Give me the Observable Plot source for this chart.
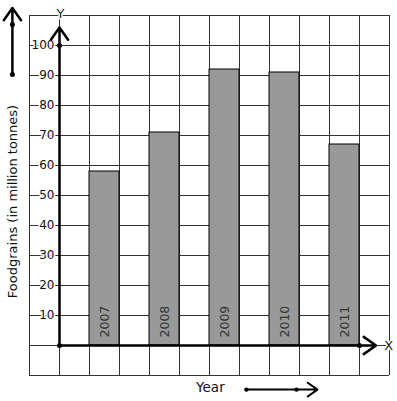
<!DOCTYPE html>
<html>
<head>
<meta charset="utf-8">
<script src="https://cdn.jsdelivr.net/npm/d3@7"></script>
<script src="https://cdn.jsdelivr.net/npm/@observablehq/plot@0.6"></script>
<style>
  html, body { margin: 0; padding: 0; background: #fff; }
  #chart svg { display: block; }
</style>
</head>
<body>
<div id="chart"></div>
<script>
const years = ["2007", "2008", "2009", "2010", "2011"];
const production = [58, 71, 92, 91, 67];
const yTicks = [10, 20, 30, 40, 50, 60, 70, 80, 90, 100];
const gridX = [-1, 0, 1, 2, 3, 4, 5, 6, 7, 8, 9, 10, 11];
const gridY = [-10, 0, 10, 20, 30, 40, 50, 60, 70, 80, 90, 100, 110];
const yTitle = "Foodgrains (in million tonnes)";
const xTitle = "Year";

const bars = years.map((year, i) => ({ year, value: production[i], x1: 2 * i + 1, x2: 2 * i + 2 }));

const font = "DejaVu Sans, sans-serif";

const chart = Plot.plot({
  width: 397,
  height: 401,
  marginLeft: 29,
  marginRight: 8,
  marginTop: 15,
  marginBottom: 26,
  x: { domain: [-1, 11], axis: null },
  y: { domain: [-10, 110], axis: null },
  style: { fontFamily: font, background: "white" },
  marks: [
    Plot.ruleX(gridX, { x: d => d, y1: -10, y2: 110, stroke: "#333", strokeWidth: 1, strokeOpacity: 1 }),
    Plot.ruleY(gridY, { y: d => d, x1: -1, x2: 11, stroke: "#333", strokeWidth: 1, strokeOpacity: 1 }),
    Plot.rect(bars, { x1: "x1", x2: "x2", y1: 0, y2: "value", fill: "#999", stroke: "#000", strokeWidth: 1 }),
    Plot.text(bars, { x: d => (d.x1 + d.x2) / 2, y: 0, text: "year", rotate: -90, textAnchor: "start", lineAnchor: "middle", dy: -8, fill: "#333", fontSize: 12.5 }),
    Plot.text(yTicks, { x: 0, y: d => d, text: d => String(d), textAnchor: "end", dx: -5, fontSize: 12, fill: "#111", stroke: "white", strokeWidth: 3, paintOrder: "stroke" }),
    // axes
    Plot.arrow([0], { x1: 0, y1: 0, x2: 0, y2: 106, stroke: "#000", strokeWidth: 2.5, headLength: 9, headAngle: 70 }),
    Plot.arrow([0], { x1: 0, y1: 0, x2: 10.55, y2: 0, stroke: "#000", strokeWidth: 2.5, headLength: 9, headAngle: 70 }),
    Plot.dot([[0, 0], [0, 100], [10, 0]], { x: d => d[0], y: d => d[1], r: 2.5, fill: "#000" }),
    Plot.text(["Y"], { x: 0.03, y: 110, text: d => d, fontSize: 13, fill: "#222", stroke: "white", strokeWidth: 3, paintOrder: "stroke", dy: -2 }),
    Plot.text(["X"], { x: 10.97, y: 0, text: d => d, fontSize: 13, fill: "#222", stroke: "white", strokeWidth: 3, paintOrder: "stroke" }),
    // titles
    Plot.text([yTitle], { x: -1.55, y: 48, text: d => d, rotate: -90, fontSize: 13, fill: "#111" }),
    Plot.text([xTitle], { x: 5.03, y: -14, text: d => d, fontSize: 13.5, fill: "#111" }),
    // decorative direction arrows
    Plot.arrow([0], { x1: -1.57, y1: 90.3, x2: -1.57, y2: 112.5, stroke: "#000", strokeWidth: 2.5, headLength: 9, headAngle: 70 }),
    Plot.dot([[-1.57, 90.3], [-1.57, 107]], { x: d => d[0], y: d => d[1], r: 2.5, fill: "#000" }),
    Plot.arrow([0], { x1: 6.23, y1: -14.7, x2: 8.6, y2: -14.7, stroke: "#000", strokeWidth: 2, headLength: 9, headAngle: 70 }),
    Plot.dot([[6.23, -14.7], [7.9, -14.7]], { x: d => d[0], y: d => d[1], r: 2.2, fill: "#000" })
  ]
});

document.getElementById("chart").appendChild(chart);
</script>
</body>
</html>
